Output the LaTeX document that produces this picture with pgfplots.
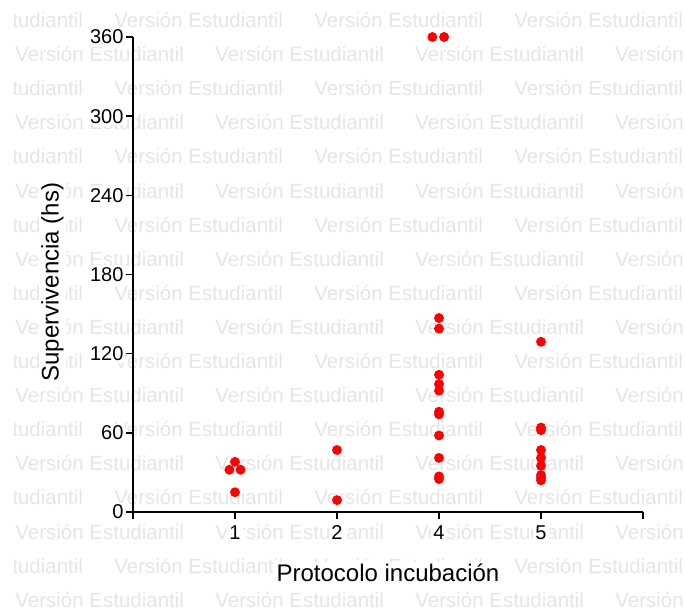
\documentclass[border=0pt]{standalone}
\usepackage{fontspec}
\setmainfont{Liberation Sans}
\usepackage{pgfplots}
\pgfplotsset{compat=1.18}
\definecolor{wmGray}{RGB}{229,229,229}
\definecolor{dotRed}{RGB}{255,0,0}

\begin{document}
\begin{tikzpicture}
	% page frame and "Versión Estudiantil" watermark (pixel units)
	\begin{scope}[x=0.5pt,y=-0.5pt]
		\path[use as bounding box] (0,0) rectangle (685,607);
		\clip (14,0) rectangle (685,607);
		\foreach \r in {0,...,17}{
			\pgfmathsetmacro{\yy}{27.5+34.1*\r}
			\pgfmathtruncatemacro{\odd}{mod(\r,2)}
			\ifnum\odd=0 \def\xs{-86}\else\def\xs{15}\fi
			\foreach \k in {0,...,3}{
				\node[anchor=base west, inner sep=0pt, text=wmGray,
					font=\fontsize{10.25}{12}\selectfont] at ({\xs+200*\k},\yy) {Versión Estudiantil};
			}
		}
	\end{scope}

	\begin{axis}[
		at={(66.5pt,-256pt)}, anchor=south west,
		scale only axis,
		width=255pt, height=237.5pt,
		xmin=0, xmax=5,
		ymin=0, ymax=360,
		axis lines=left,
		axis line style={line width=1pt, -},
		tick align=outside,
		major tick length=3.6pt,
		tick style={line width=0.8pt, black},
		xtick={0,1,2,3,4,5},
		xticklabels={,1,2,4,5,},
		ytick={0,60,...,360},
		/pgf/number format/assume math mode=true,
		tick label style={font=\fontsize{10}{12}\selectfont, fill=white, inner sep=1pt},
		xticklabel style={yshift=-2pt},
		xlabel={Protocolo incubación},
		ylabel={Supervivencia (hs)},
		label style={font=\fontsize{12}{14}\selectfont, fill=white, inner sep=1pt},
		xlabel style={at={(axis description cs:0.5,-0.128)}, anchor=center},
		ylabel style={at={(axis description cs:-0.158,0.484)}, anchor=center},
		clip=false,
		]
		% protocolo 1
		\addplot[only marks, mark=*, mark size=2.25pt, dotRed] coordinates {
			(1,38) (0.945,32) (1.055,32) (1,15)};
		% protocolo 2
		\addplot[only marks, mark=*, mark size=2.25pt, dotRed] coordinates {
			(2,47) (2,9)};
		% protocolo 4
		\addplot[only marks, mark=*, mark size=2.25pt, dotRed] coordinates {
			(2.935,360) (3.05,360) (3,147) (3,139) (3,104) (3,97) (3,92)
			(3,76) (3,74) (3,58) (3,41) (3,27) (3,25)};
		% protocolo 5
		\addplot[only marks, mark=*, mark size=2.25pt, dotRed] coordinates {
			(4,129) (4,64) (4,62) (4,47) (4,41) (4,35) (4,28) (4,26) (4,24)};
	\end{axis}
\end{tikzpicture}
\end{document}
